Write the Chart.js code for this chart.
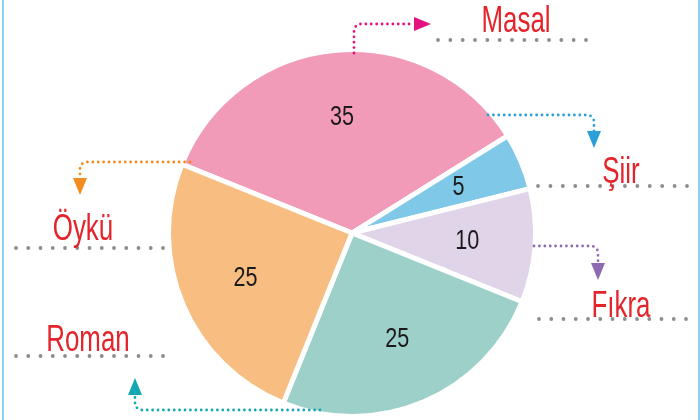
<!DOCTYPE html>
<html>
<head>
<meta charset="utf-8">
<script src="https://cdn.jsdelivr.net/npm/chart.js@4/dist/chart.umd.min.js"></script>
<style>
  html, body { margin: 0; padding: 0; background: #fff; }
  #wrap { position: relative; width: 700px; height: 420px; }
  #wrap::before, #wrap::after {
    content: ""; position: absolute; top: 0; bottom: 0; width: 2px; background: #8fd0f0;
  }
  #wrap::before { left: 2px; }
  #wrap::after { right: 0; }
</style>
</head>
<body>
<div id="wrap"><canvas id="genreChart" width="700" height="420"></canvas></div>
<script>
const genres = ["Masal", "Şiir", "Fıkra", "Roman", "Öykü"];
const counts = [35, 5, 10, 25, 25];
const sliceColors = ["#f29bb9", "#7fc8e8", "#e0d4e9", "#9dd0c9", "#f8bd80"];
const arrowColors = ["#e2137e", "#2a9fd8", "#8e6bb0", "#15a8b3", "#f28c1e"];

// where each genre name sits, with its dotted writing line and pointer path
const callouts = [
  { text: "Masal", x: 516, y: 32, line: [438, 586, 40],
    path: [[354, 53], [354, 24], [414, 24]], head: "right" },
  { text: "Şiir", x: 621, y: 183, line: [538, 687, 186],
    path: [[488, 115], [594, 115], [594, 131]], head: "down" },
  { text: "Fıkra", x: 621, y: 317, line: [539, 686, 319],
    path: [[534, 246], [598, 246], [598, 263]], head: "down" },
  { text: "Roman", x: 88, y: 351, line: [16, 163, 356],
    path: [[320, 410], [135, 410], [135, 395]], head: "up" },
  { text: "Öykü", x: 83, y: 240, line: [16, 163, 248],
    path: [[190, 162], [80, 162], [80, 178]], head: "down" },
];

function dottedPath(ctx, pts, color) {
  ctx.save();
  ctx.strokeStyle = color;
  ctx.lineWidth = 2.8;
  ctx.lineCap = "round";
  ctx.setLineDash([0, 5.4]);
  ctx.beginPath();
  ctx.moveTo(pts[0][0], pts[0][1]);
  for (let i = 1; i < pts.length - 1; i++) {
    ctx.arcTo(pts[i][0], pts[i][1], pts[i + 1][0], pts[i + 1][1], 7);
  }
  ctx.lineTo(pts[pts.length - 1][0], pts[pts.length - 1][1]);
  ctx.stroke();
  ctx.restore();
}

function arrowHead(ctx, x, y, dir, color) {
  ctx.save();
  ctx.fillStyle = color;
  ctx.beginPath();
  if (dir === "right") {
    ctx.moveTo(x, y - 7); ctx.lineTo(x + 17, y); ctx.lineTo(x, y + 7);
  } else if (dir === "down") {
    ctx.moveTo(x - 7, y); ctx.lineTo(x, y + 17); ctx.lineTo(x + 7, y);
  } else {
    ctx.moveTo(x - 7, y); ctx.lineTo(x, y - 17); ctx.lineTo(x + 7, y);
  }
  ctx.closePath();
  ctx.fill();
  ctx.restore();
}

function grayDots(ctx, x0, x1, y) {
  const n = 13;
  const step = (x1 - x0) / (n - 1);
  ctx.save();
  ctx.fillStyle = "#8c8c8c";
  for (let i = 0; i < n; i++) {
    ctx.beginPath();
    ctx.arc(x0 + i * step, y, 1.9, 0, Math.PI * 2);
    ctx.fill();
  }
  ctx.restore();
}

// condensed text: squeeze horizontally around the anchor point
function narrowText(ctx, str, x, y, squeeze) {
  ctx.save();
  ctx.translate(x, y);
  ctx.scale(squeeze, 1);
  ctx.fillText(str, 0, 0);
  ctx.restore();
}

const sliceValues = {
  id: "sliceValues",
  afterDatasetsDraw(chart) {
    const ctx = chart.ctx;
    const meta = chart.getDatasetMeta(0);
    ctx.save();
    ctx.fillStyle = "#1a1a1a";
    ctx.font = "27px 'Liberation Sans', sans-serif";
    ctx.textAlign = "center";
    ctx.textBaseline = "middle";
    meta.data.forEach((arc, i) => {
      const mid = (arc.startAngle + arc.endAngle) / 2;
      const r = arc.outerRadius * 0.63;
      narrowText(ctx, String(counts[i]), arc.x + Math.cos(mid) * r, arc.y + Math.sin(mid) * r, 0.8);
    });
    ctx.restore();
  },
};

const genreCallouts = {
  id: "genreCallouts",
  afterDraw(chart) {
    const ctx = chart.ctx;
    callouts.forEach((c) => {
      const idx = genres.indexOf(c.text);
      const color = arrowColors[idx];
      grayDots(ctx, c.line[0], c.line[1], c.line[2]);
      dottedPath(ctx, c.path, color);
      const end = c.path[c.path.length - 1];
      arrowHead(ctx, end[0], end[1], c.head, color);

      ctx.save();
      ctx.fillStyle = "#e3242b";
      ctx.font = "36px 'Liberation Sans', sans-serif";
      ctx.textAlign = "center";
      ctx.textBaseline = "alphabetic";
      narrowText(ctx, genres[idx], c.x, c.y, 0.72);
      ctx.restore();
    });
  },
};

new Chart(document.getElementById("genreChart"), {
  type: "pie",
  data: {
    labels: genres,
    datasets: [
      {
        data: counts,
        backgroundColor: sliceColors,
        borderColor: "#ffffff",
        borderWidth: 5,
      },
    ],
  },
  options: {
    responsive: false,
    animation: false,
    rotation: -68,
    layout: {
      padding: { left: 166, right: 162, top: 47, bottom: 1 },
    },
    plugins: {
      legend: { display: false },
      tooltip: { enabled: false },
    },
  },
  plugins: [sliceValues, genreCallouts],
});
</script>
</body>
</html>
